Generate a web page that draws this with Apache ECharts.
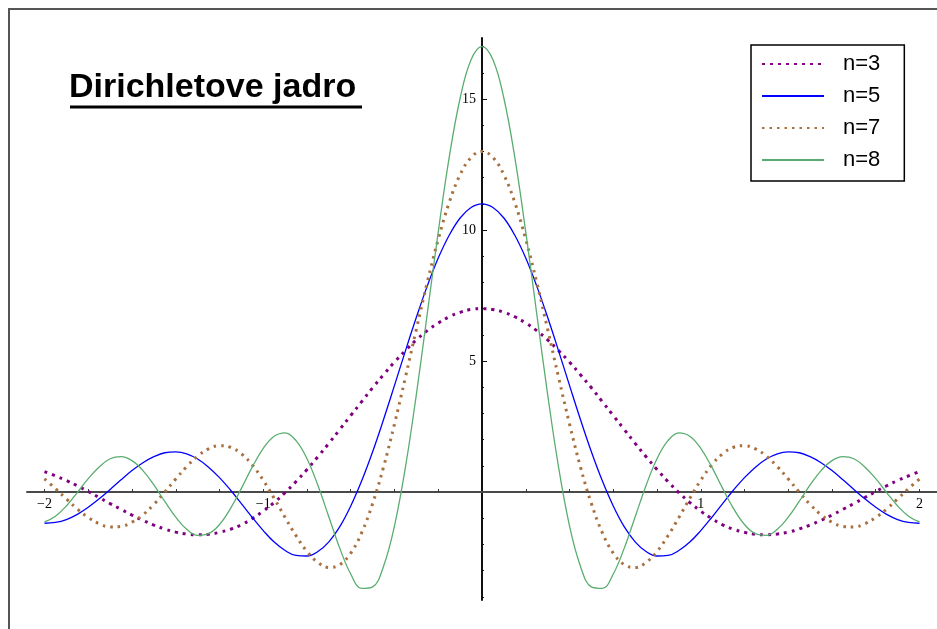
<!DOCTYPE html>
<html>
<head>
<meta charset="utf-8">
<title>Dirichletove jadro</title>
<script src="https://cdn.jsdelivr.net/npm/echarts@6/dist/echarts.min.js"></script>
<style>
  html, body { margin: 0; padding: 0; background: #fff; }
  #chart { width: 937px; height: 629px; }
</style>
</head>
<body>
<div id="chart"></div>
<script>
// Sample positions along x (step 0.05)
const xs = [
  -2, -1.95, -1.9, -1.85, -1.8, -1.75, -1.7, -1.65, -1.6, -1.55,
  -1.5, -1.45, -1.4, -1.35, -1.3, -1.25, -1.2, -1.15, -1.1, -1.05,
  -1, -0.95, -0.9, -0.85, -0.8, -0.75, -0.7, -0.65, -0.6, -0.55,
  -0.5, -0.45, -0.4, -0.35, -0.3, -0.25, -0.2, -0.15, -0.1, -0.05,
  0, 0.05, 0.1, 0.15, 0.2, 0.25, 0.3, 0.35, 0.4, 0.45,
  0.5, 0.55, 0.6, 0.65, 0.7, 0.75, 0.8, 0.85, 0.9, 0.95,
  1, 1.05, 1.1, 1.15, 1.2, 1.25, 1.3, 1.35, 1.4, 1.45,
  1.5, 1.55, 1.6, 1.65, 1.7, 1.75, 1.8, 1.85, 1.9, 1.95, 2
];

// Kernel values for each curve
const kernelN3 = [
  0.78, 0.62, 0.44, 0.24, 0.02, -0.21, -0.44, -0.66, -0.88, -1.08,
  -1.26, -1.41, -1.53, -1.60, -1.63, -1.61, -1.54, -1.42, -1.25, -1.01,
  -0.73, -0.40, -0.02, 0.40, 0.86, 1.35, 1.86, 2.39, 2.92, 3.45,
  3.98, 4.48, 4.96, 5.40, 5.81, 6.16, 6.45, 6.69, 6.86, 6.97,
  7,
  6.97, 6.86, 6.69, 6.45, 6.16, 5.81, 5.40, 4.96, 4.48, 3.98,
  3.45, 2.92, 2.39, 1.86, 1.35, 0.86, 0.40, -0.02, -0.40, -0.73,
  -1.01, -1.25, -1.42, -1.54, -1.61, -1.63, -1.60, -1.53, -1.41, -1.26,
  -1.08, -0.88, -0.66, -0.44, -0.21, 0.02, 0.24, 0.44, 0.62, 0.78
];
const kernelN5 = [
  -1.19, -1.16, -1.05, -0.85, -0.58, -0.26, 0.10, 0.47, 0.82, 1.12,
  1.35, 1.50, 1.53, 1.46, 1.26, 0.95, 0.55, 0.08, -0.44, -0.97,
  -1.47, -1.91, -2.23, -2.42, -2.44, -2.27, -1.90, -1.32, -0.53, 0.43,
  1.54, 2.77, 4.07, 5.39, 6.67, 7.87, 8.93, 9.80, 10.46, 10.86,
  11,
  10.86, 10.46, 9.80, 8.93, 7.87, 6.67, 5.39, 4.07, 2.77, 1.54,
  0.43, -0.53, -1.32, -1.90, -2.27, -2.44, -2.42, -2.23, -1.91, -1.47,
  -0.97, -0.44, 0.08, 0.55, 0.95, 1.26, 1.46, 1.53, 1.50, 1.35,
  1.12, 0.82, 0.47, 0.10, -0.26, -0.58, -0.85, -1.05, -1.16, -1.19
];
const kernelN7 = [
  0.50, 0.13, -0.26, -0.65, -0.97, -1.21, -1.33, -1.31, -1.15, -0.87,
  -0.47, 0.00, 0.50, 0.97, 1.37, 1.65, 1.77, 1.71, 1.46, 1.03,
  0.45, -0.24, -0.97, -1.67, -2.27, -2.69, -2.88, -2.77, -2.33, -1.55,
  -0.44, 0.96, 2.60, 4.38, 6.22, 8.01, 9.65, 11.05, 12.11, 12.77,
  13,
  12.77, 12.11, 11.05, 9.65, 8.01, 6.22, 4.38, 2.60, 0.96, -0.44,
  -1.55, -2.33, -2.77, -2.88, -2.69, -2.27, -1.67, -0.97, -0.24, 0.45,
  1.03, 1.46, 1.71, 1.77, 1.65, 1.37, 0.97, 0.50, 0.00, -0.47,
  -0.87, -1.15, -1.31, -1.33, -1.21, -0.97, -0.65, -0.26, 0.13, 0.50
];
const kernelN8 = [
  -1.14, -0.92, -0.53, -0.02, 0.51, 0.96, 1.27, 1.35, 1.20, 0.82,
  0.27, -0.36, -0.96, -1.42, -1.65, -1.59, -1.24, -0.63, 0.14, 0.96,
  1.67, 2.13, 2.26, 1.96, 1.27, 0.25, -0.95, -2.15, -3.13, -3.68,
  -3.62, -2.83, -1.29, 0.95, 3.73, 6.82, 9.93, 12.77, 15.03, 16.50,
  17,
  16.50, 15.03, 12.77, 9.93, 6.82, 3.73, 0.95, -1.29, -2.83, -3.62,
  -3.68, -3.13, -2.15, -0.95, 0.25, 1.27, 1.96, 2.26, 2.13, 1.67,
  0.96, 0.14, -0.63, -1.24, -1.59, -1.65, -1.42, -0.96, -0.36, 0.27,
  0.82, 1.20, 1.35, 1.27, 0.96, 0.51, -0.02, -0.53, -0.92, -1.14
];

const seriesNames = ['n=3', 'n=5', 'n=7', 'n=8'];

// Axis ticks and labels
const xTickValues = [-2, -1.8, -1.6, -1.4, -1.2, -1, -0.8, -0.6, -0.4, -0.2,
                     0.2, 0.4, 0.6, 0.8, 1, 1.2, 1.4, 1.6, 1.8, 2];
const xLabelValues = [-2, -1, 1, 2];
const yMajorValues = [5, 10, 15];
const yMinorValues = [-4, -3, -2, -1, 1, 2, 3, 4, 6, 7, 8, 9, 11, 12, 13, 14, 16, 17];

// Plot ranges and grid box
const X_MIN = -2.08, X_MAX = 2.08;
const Y_MIN = -4.12, Y_MAX = 17.33;
const GRID = { left: 27, right: 0, top: 38, bottom: 29 };
const CHART_W = 937, CHART_H = 629;

// Shift the axes so they cross at the origin, carrying labels and ticks with them
const plotW = CHART_W - GRID.left - GRID.right;
const plotH = CHART_H - GRID.top - GRID.bottom;
const yAxisOffset = -((0 - X_MIN) / (X_MAX - X_MIN)) * plotW;
const xAxisOffset = -((0 - Y_MIN) / (Y_MAX - Y_MIN)) * plotH;

const toPairs = ys => xs.map((x, i) => [x, ys[i]]);
const minusSign = v => String(v).replace('-', '\u2212');

const chart = echarts.init(document.getElementById('chart'), null, { renderer: 'canvas' });

const tickFont = { color: '#000', fontFamily: 'Liberation Serif', fontSize: 14 };

chart.setOption({
  animation: false,
  backgroundColor: '#fff',
  title: {
    text: 'Dirichletove jadro',
    left: 69,
    top: 71,
    padding: 0,
    textStyle: {
      fontFamily: 'Liberation Sans',
      fontWeight: 'bold',
      fontSize: 34,
      color: '#000'
    }
  },
  graphic: [
    // frame edges
    {
      type: 'polyline',
      shape: { points: [[9, 629], [9, 9], [937, 9]] },
      style: { stroke: '#555', lineWidth: 2, fill: null },
      silent: true
    },
    // title underline
    {
      type: 'line',
      shape: { x1: 70, y1: 107, x2: 362, y2: 107 },
      style: { stroke: '#000', lineWidth: 3 },
      silent: true
    }
  ],
  legend: {
    data: seriesNames,
    orient: 'vertical',
    left: 751,
    top: 45,
    padding: [6, 24, 8, 10],
    itemWidth: 62,
    itemHeight: 14,
    itemGap: 6,
    borderColor: '#000',
    borderWidth: 1.5,
    backgroundColor: '#fff',
    selectedMode: false,
    itemStyle: { opacity: 0 },
    textStyle: {
      fontFamily: 'Liberation Sans',
      fontSize: 22,
      lineHeight: 26,
      color: '#000',
      padding: [0, 0, 0, 14]
    }
  },
  grid: {
    left: GRID.left,
    right: GRID.right,
    top: GRID.top,
    bottom: GRID.bottom,
    containLabel: false
  },
  xAxis: {
    type: 'value',
    position: 'bottom',
    offset: xAxisOffset,
    min: X_MIN,
    max: X_MAX,
    axisLine: { onZero: false, lineStyle: { color: '#4a4a4a', width: 2 } },
    axisTick: { show: true, inside: true, length: 3, customValues: xTickValues,
                lineStyle: { color: '#333', width: 1 } },
    axisLabel: { show: true, margin: 5, customValues: xLabelValues,
                 formatter: minusSign, ...tickFont },
    splitLine: { show: false }
  },
  yAxis: [
    {
      type: 'value',
      position: 'left',
      offset: yAxisOffset,
      min: Y_MIN,
      max: Y_MAX,
      axisLine: { show: true, onZero: false, lineStyle: { color: '#111', width: 2 } },
      axisTick: { show: true, inside: true, length: 5, customValues: yMajorValues,
                  lineStyle: { color: '#111', width: 1 } },
      axisLabel: { show: true, margin: 6, customValues: yMajorValues, ...tickFont },
      splitLine: { show: false }
    },
    {
      type: 'value',
      position: 'left',
      offset: yAxisOffset,
      min: Y_MIN,
      max: Y_MAX,
      axisLine: { show: false, onZero: false },
      axisTick: { show: true, inside: true, length: 2, customValues: yMinorValues,
                  lineStyle: { color: '#111', width: 1 } },
      axisLabel: { show: false },
      splitLine: { show: false }
    }
  ],
  series: [
    {
      name: seriesNames[0], type: 'line', data: toPairs(kernelN3),
      smooth: 0.4, symbol: 'none', color: '#800080',
      lineStyle: { color: '#800080', width: 3, type: [3, 5], cap: 'butt' }
    },
    {
      name: seriesNames[1], type: 'line', data: toPairs(kernelN5),
      smooth: 0.4, symbol: 'none', color: '#0000ff',
      lineStyle: { color: '#0000ff', width: 1.3 }
    },
    {
      name: seriesNames[2], type: 'line', data: toPairs(kernelN7),
      smooth: 0.4, symbol: 'none', color: '#a8703e',
      lineStyle: { color: '#a8703e', width: 3, type: [2.5, 5], cap: 'butt' }
    },
    {
      name: seriesNames[3], type: 'line', data: toPairs(kernelN8),
      smooth: 0.4, symbol: 'none', color: '#5aad70',
      lineStyle: { color: '#5aad70', width: 1.3 }
    }
  ]
});
</script>
</body>
</html>
